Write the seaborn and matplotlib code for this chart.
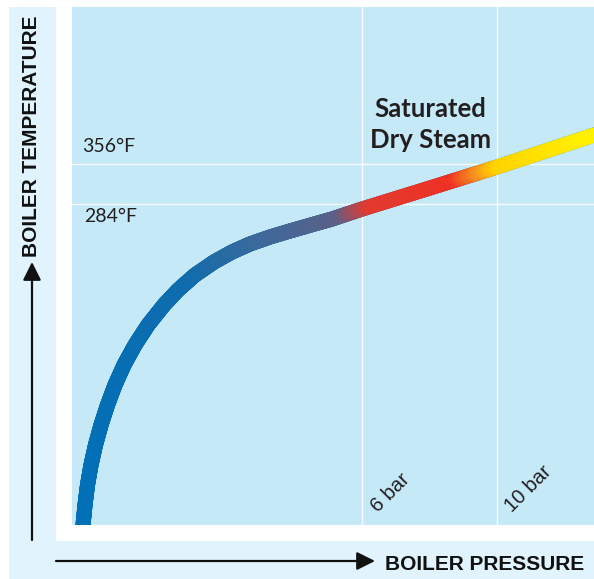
import numpy as np
import matplotlib
matplotlib.use("Agg")
import matplotlib.pyplot as plt
import seaborn as sns
from matplotlib.collections import LineCollection
from matplotlib.colors import LinearSegmentedColormap
from matplotlib.patches import Rectangle, FancyArrowPatch

# schematic saturation curve, both axes on a 0-100 scale
pressure = [2.11, 2.49, 2.97, 3.64, 4.50, 5.56, 6.80, 8.24, 9.96, 12.07, 14.56, 17.62, 20.31,
            23.56, 27.20, 30.65, 34.10, 37.93, 41.76, 45.79, 49.81, 55.56, 68.58, 81.42, 100.0]
temperature = [0.0, 3.86, 7.72, 11.58, 15.44, 19.31, 23.17, 27.03, 30.89, 34.75, 38.61, 42.47, 45.37,
               48.26, 50.77, 52.70, 54.25, 55.60, 56.76, 57.92, 59.07, 61.00, 65.06, 69.11, 75.29]

bar_pos = [55.6, 81.4]
bar_labels = ["6 bar", "10 bar"]
temp_pos = [69.7, 62.0]
temp_labels = ["356°F", "284°F"]

# colour stops along the pressure axis
grad_pos = [0, 22.6, 36.0, 51.3, 57.5, 73.4, 78.5, 82.0, 100]
grad_colors = ["#0070b8", "#106cad", "#3b6a9c", "#5a6089", "#e23a30", "#ee3124", "#f7941d", "#ffd200", "#fff200"]

sns.set_theme(style="white")
plt.rcParams['font.family'] = ['Liberation Sans', 'DejaVu Sans']

W, H = 594, 579
fig = plt.figure(figsize=(W / 100, H / 100), dpi=100)
fig.patch.set_facecolor("white")

# outer light blue frame and white inner frame
fig.add_artist(Rectangle((9 / W, 0), 1 - 9 / W, (H - 7) / H, transform=fig.transFigure,
                         facecolor="#e1f3fc", edgecolor="none", zorder=0))
fig.add_artist(Rectangle((56 / W, (H - 541) / H), 1 - 56 / W, (541 - 7) / H, transform=fig.transFigure,
                         facecolor="white", edgecolor="none", zorder=0))

ax = fig.add_axes([72 / W, (H - 525) / H, 522 / W, 518 / H])
ax.set_facecolor("#c6e9f8")
ax.set_xlim(0, 100)
ax.set_ylim(0, 100)
for s in ax.spines.values():
    s.set_visible(False)
ax.set_xticks(bar_pos)
ax.set_yticks(temp_pos)
ax.set_xticklabels([])
ax.set_yticklabels([])
ax.tick_params(length=0)
ax.grid(True, color="white", lw=1, alpha=0.9)

cmap = LinearSegmentedColormap.from_list("steam", [(p / 100, c) for p, c in zip(grad_pos, grad_colors)])

# base line via seaborn, then gradient on top
sns.lineplot(x=pressure, y=temperature, sort=False, color=grad_colors[0], lw=10.8,
             solid_joinstyle="round", ax=ax, zorder=2)

segs = []
cols = []
for i in range(len(pressure) - 1):
    xs = np.linspace(pressure[i], pressure[i + 1], 25)
    ys = np.linspace(temperature[i], temperature[i + 1], 25)
    for j in range(len(xs) - 1):
        segs.append([(xs[j], ys[j]), (xs[j + 1], ys[j + 1])])
        cols.append(cmap((xs[j] + xs[j + 1]) / 200))
lc = LineCollection(segs, colors=cols, linewidths=10.8, capstyle="round", joinstyle="round", zorder=3)
ax.add_collection(lc)

txt = "#231f20"
for p, lab in zip(bar_pos, bar_labels):
    ax.annotate(lab, xy=(p, 0), xytext=(11, 8.5), textcoords="offset points", rotation=45,
                rotation_mode="anchor", ha="left", va="baseline", fontsize=14.5, color=txt)
ax.annotate(temp_labels[0], xy=(0, temp_pos[0]), xytext=(7.2, 8.6), textcoords="offset points",
            ha="left", va="baseline", fontsize=14, color=txt, family="Lato")
ax.annotate(temp_labels[1], xy=(0, temp_pos[1]), xytext=(8.6, -13), textcoords="offset points",
            ha="left", va="baseline", fontsize=14, color=txt, family="Lato")

ax.text(68.6, 78.8, "Saturated", ha="center", va="baseline", fontsize=18.5, fontweight="bold",
        color=txt, family="Lato")
ax.text(68.6, 72.8, "Dry Steam", ha="center", va="baseline", fontsize=18.5, fontweight="bold",
        color=txt, family="Lato")

# axis arrows and labels
fig.add_artist(FancyArrowPatch((32 / W, (H - 540) / H), (32 / W, (H - 262) / H), transform=fig.transFigure,
                               arrowstyle="-|>,head_length=11,head_width=5.5", lw=1.6, color="#111111",
                               shrinkA=0, shrinkB=0))
fig.add_artist(FancyArrowPatch((56 / W, (H - 561) / H), (375 / W, (H - 561) / H), transform=fig.transFigure,
                               arrowstyle="-|>,head_length=11,head_width=5.5", lw=1.6, color="#111111",
                               shrinkA=0, shrinkB=0))
fig.text(385 / W, (H - 570) / H, "BOILER PRESSURE", ha="left", va="baseline", fontsize=15,
         fontweight="bold", color="#111111")
fig.text(37 / W, (H - 257) / H, "BOILER TEMPERATURE", ha="left", va="baseline", rotation=90,
         rotation_mode="anchor", fontsize=15, fontweight="bold", color="#111111")

fig.savefig("out.png", dpi=100)
